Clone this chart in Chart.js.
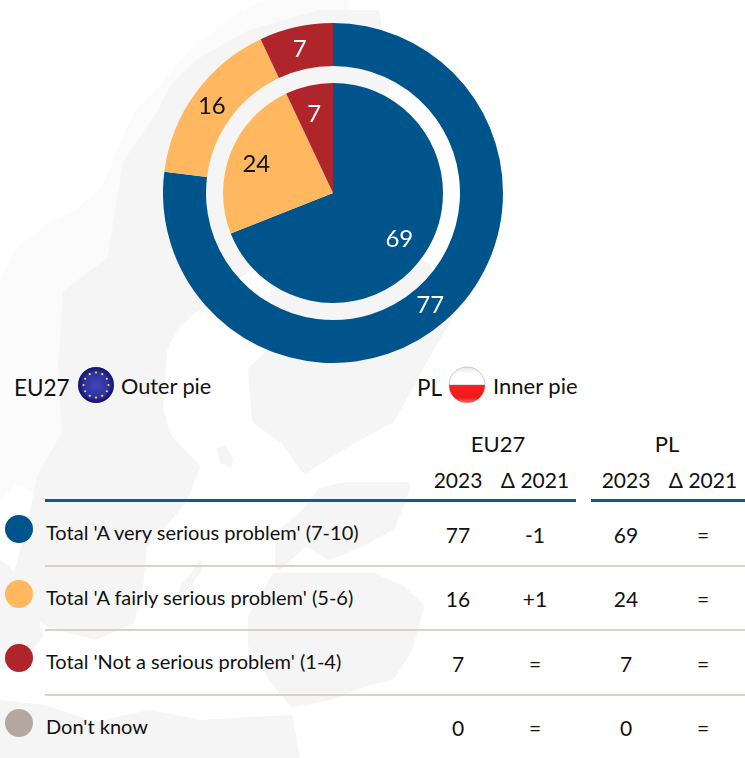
<!DOCTYPE html>
<html>
<head>
<meta charset="utf-8">
<title>Seriousness of the problem</title>
<script src="https://cdn.jsdelivr.net/npm/chart.js@4/dist/chart.umd.min.js"></script>
<style>
  html, body { margin: 0; padding: 0; background: #fff; }
  #page { position: relative; width: 745px; height: 758px; overflow: hidden; font-family: Lato, sans-serif; color: #111; }
  #page > * { position: absolute; }
  #map { left: 0; top: 0; }
  .txt { white-space: nowrap; line-height: 24px; height: 24px; transform: translateY(-12px); }
  .mid { transform: translate(-50%, -12px); }
  .rule { height: 2.5px; background: #0F5A90; }
  .line { height: 1.5px; left: 45px; width: 700px; background: #D8D1CC; }
  .dot { width: 28px; height: 28px; left: 5px; border-radius: 50%; }
</style>
</head>
<body>
<div id="page">
  <svg id="map" width="745" height="758" viewBox="0 0 745 758">
    <!-- faint map behind everything, shapes are only rough -->
    <g fill="#FBFBFB" stroke="#FBFBFB" stroke-width="8" stroke-linejoin="round">
      <path d="M240,15 L215,35 L190,55 L165,85 L140,110 L125,140 L105,190 L75,215 L50,225 L20,250 L4,280 L0,495 L15,480 L40,490 L200,300 L300,40 Z"/>
      <path d="M270,0 L345,0 L345,30 L240,20 Z"/>
    </g>
    <g fill="#F5F5F5" stroke="#F5F5F5" stroke-width="8" stroke-linejoin="round">
      <!-- sweden -->
      <path d="M200,62 L174,87 L161,113 L127,163 L111,260 L67,293 L62,367 L66,433 L41,477 L32,520 L19,570 L24,606 L48,623 L95,636 L131,620 L139,587 L143,547 L183,500 L196,467 L168,438 L159,410 L163,350 L176,323 L243,271 L300,200 L386,87 L376,14 L320,14 L250,34 Z"/>
      <!-- finland side -->
      <path d="M427,267 L453,310 L429,350 L396,410 L391,419 L350,441 L305,469 L284,440 L256,420 L252,370 L284,340 L274,293 L350,220 Z"/>
      <!-- baltics -->
      <path d="M321,492 L345,486 L406,486 L401,503 L391,526 L365,541 L329,556 L305,541 L279,566 L279,534 L304,514 Z"/>
      <!-- poland and neighbours -->
      <path d="M275,577 L373,577 L401,589 L420,607 L408,650 L391,676 L370,681 L330,696 L293,703 L274,680 L252,645 L252,617 Z"/>
      <!-- denmark -->
      <path d="M0,564 L11,574 L31,604 L39,636 L16,661 L0,666 Z"/>
      <!-- germany along the bottom -->
      <path d="M0,704 L45,709 L95,726 L150,714 L200,724 L289,719 L296,758 L0,758 Z"/>
    </g>
    <g fill="#F5F5F5" stroke="#F5F5F5" stroke-width="3" stroke-linejoin="round">
      <!-- islands -->
      <path d="M218,450 L225,447 L232,460 L230,466 L222,462 Z"/>
      <path d="M200,562 L192,575 L182,585 L180,595 L190,585 L200,570 Z"/>
    </g>
  </svg>
  <canvas id="outerPie" width="340" height="340" style="left:163px;top:23px"></canvas>
  <canvas id="innerPie" width="220" height="220" style="left:223px;top:83px"></canvas>
</div>
<script>
// Series
const categories = ["Total 'A very serious problem' (7-10)", "Total 'A fairly serious problem' (5-6)", "Total 'Not a serious problem' (1-4)", "Don't know"];
const eu2023 = [77, 16, 7, 0];
const euDelta = ['-1', '+1', '=', '='];
const pl2023 = [69, 24, 7, 0];
const plDelta = ['=', '=', '=', '='];
const sliceColors = ['#00548C', '#FFB85F', '#B0252B', '#B5A8A0'];
const labelColors = ['#FFFFFF', '#111111', '#FFFFFF', '#111111'];

// Writes the value inside each slice. labelPos is how far across the ring it sits
const sliceLabels = {
  id: 'sliceLabels',
  afterDatasetsDraw(chart, args, opts) {
    const ctx = chart.ctx;
    const values = chart.data.datasets[0].data;
    ctx.save();
    ctx.font = '24px Lato, sans-serif';
    ctx.textAlign = 'center';
    ctx.textBaseline = 'middle';
    chart.getDatasetMeta(0).data.forEach((arc, i) => {
      if (!values[i]) return;
      var mid = (arc.startAngle + arc.endAngle) / 2;
      var r = arc.innerRadius + (arc.outerRadius - arc.innerRadius) * opts.labelPos;
      ctx.fillStyle = labelColors[i];
      ctx.fillText(values[i], arc.x + Math.cos(mid) * r - 1, arc.y + Math.sin(mid) * r + 1);
    });
    ctx.restore();
  }
};

function drawPie(id, values, cutout, labelPos) {
  return new Chart(document.getElementById(id), {
    type: 'doughnut',
    data: {
      labels: categories,
      datasets: [{ data: values, backgroundColor: sliceColors, borderWidth: 0 }]
    },
    options: {
      responsive: false,
      animation: false,
      cutout: cutout,
      plugins: {
        legend: { display: false },
        tooltip: { enabled: false },
        sliceLabels: { labelPos: labelPos }
      }
    },
    plugins: [sliceLabels]
  });
}

drawPie('outerPie', eu2023, '74.7%', 0.5);
drawPie('innerPie', pl2023, 0, 0.74);

// Table and captions are plain text on the page
const page = document.getElementById('page');

function addText(text, x, y, size, centered) {
  var el = document.createElement('div');
  el.className = centered ? 'txt mid' : 'txt';
  el.style.left = x + 'px';
  el.style.top = y + 'px';
  el.style.fontSize = size + 'px';
  el.textContent = text;
  page.appendChild(el);
}

function addBox(className, styles) {
  var el = document.createElement('div');
  el.className = className;
  Object.assign(el.style, styles);
  page.appendChild(el);
}

function addFlag(x, y, svgBody) {
  var el = document.createElement('div');
  el.style.left = x + 'px';
  el.style.top = y + 'px';
  el.innerHTML = '<svg width="38" height="38" viewBox="0 0 38 38" style="display:block">' + svgBody + '</svg>';
  page.appendChild(el);
}

var stars = '';
for (var s = 0; s < 12; s++) {
  var a = s * Math.PI / 6;
  stars += '<circle cx="' + (19 + Math.cos(a) * 12.5) + '" cy="' + (19 + Math.sin(a) * 12.5) + '" r="1.1" fill="#F4E24A"/>';
}
addFlag(77, 366,
  '<defs><radialGradient id="euShade" cx="50%" cy="50%" r="50%"><stop offset="0%" stop-color="#4446B4"/><stop offset="70%" stop-color="#2F31A0"/><stop offset="100%" stop-color="#0E1068"/></radialGradient></defs>' +
  '<circle cx="19" cy="19" r="18" fill="url(#euShade)"/>' + stars);
addFlag(448, 366,
  '<defs><linearGradient id="plRed" x1="0" y1="0" x2="0" y2="1"><stop offset="0%" stop-color="#FF2020"/><stop offset="70%" stop-color="#F01818"/><stop offset="100%" stop-color="#F87070"/></linearGradient>' +
  '<linearGradient id="plWhite" x1="0" y1="0" x2="0" y2="1"><stop offset="0%" stop-color="#E8E8E8"/><stop offset="40%" stop-color="#FFFFFF"/></linearGradient></defs>' +
  '<path d="M1,19 A18,18 0 0 1 37,19 Z" fill="url(#plWhite)" stroke="#C8C8C8" stroke-width="1"/>' +
  '<path d="M1,19 A18,18 0 0 0 37,19 Z" fill="url(#plRed)"/>');

addText('EU27', 14, 388, 22.5);
addText('Outer pie', 121, 386, 21.7);
addText('PL', 417, 388, 22.5);
addText('Inner pie', 493, 386, 22);

addText('EU27', 498, 444, 22, true);
addText('PL', 667, 444, 22, true);

const columnX = [458, 535, 626, 703];
['2023', '\u0394 2021', '2023', '\u0394 2021'].forEach((h, i) => addText(h, columnX[i], 480, 21, true));

addBox('rule', { left: '45px', top: '499px', width: '531px' });
addBox('rule', { left: '591px', top: '499px', width: '154px' });

const labelY = [532, 597, 661, 726];
const valueY = [535, 599, 664, 728];
const dotY = [515, 580, 644, 709];
const lineY = [565, 629, 694];

categories.forEach((c, i) => {
  addBox('dot', { top: dotY[i] + 'px', background: sliceColors[i] });
  addText(c, 46, labelY[i], 20);
  [eu2023[i], euDelta[i], pl2023[i], plDelta[i]].forEach((v, j) => addText(v, columnX[j], valueY[i], 21, true));
});
lineY.forEach(y => addBox('line', { top: y + 'px' }));
</script>
</body>
</html>
